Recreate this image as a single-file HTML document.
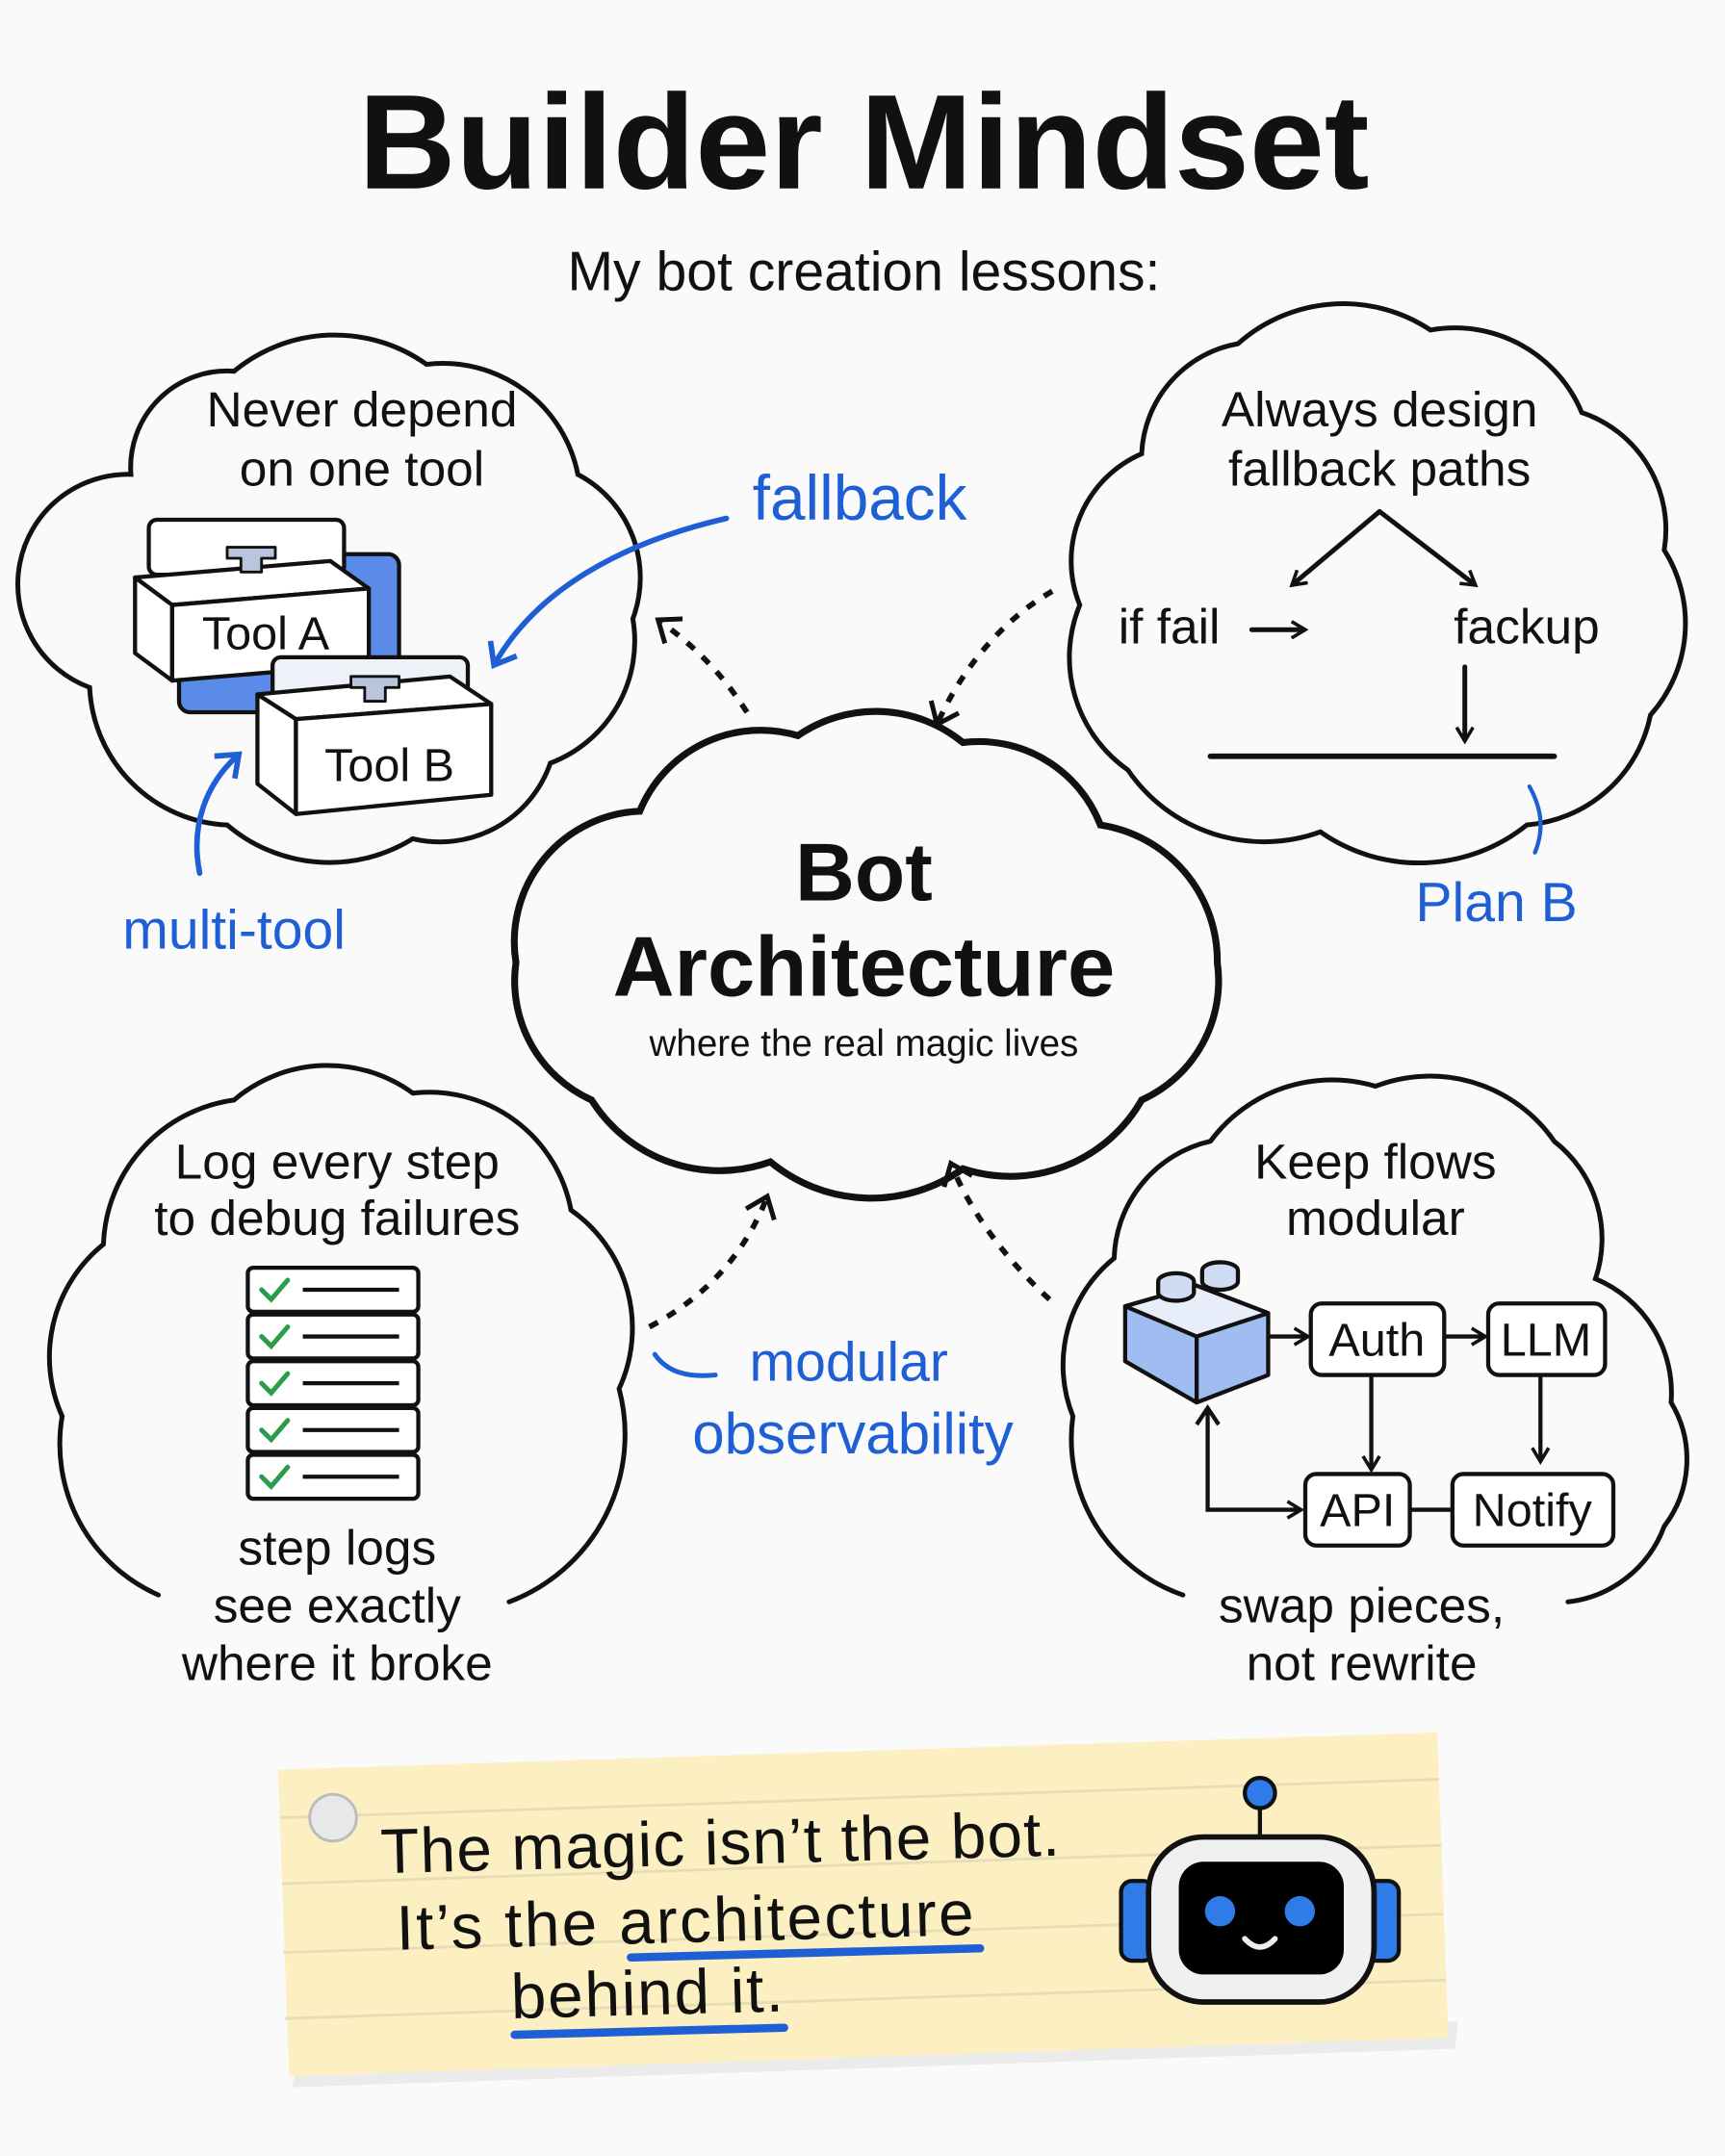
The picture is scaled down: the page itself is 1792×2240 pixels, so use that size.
<!DOCTYPE html>
<html><head><meta charset="utf-8"><style>
html,body{margin:0;padding:0;background:#fafafa;}
svg{display:block}
text{font-family:"Liberation Sans",sans-serif;fill:#111}
.b{fill:#1f5fd6}
</style></head><body>
<svg width="1792" height="2240" viewBox="0 0 1254 1568" xmlns="http://www.w3.org/2000/svg">
<defs>
<marker id="ab" markerWidth="26" markerHeight="26" refX="14" refY="13" orient="auto" markerUnits="userSpaceOnUse"><path d="M2,2 L16,13 L2,24" fill="none" stroke="#1f5fd6" stroke-width="4"/></marker>
<marker id="ad" markerWidth="26" markerHeight="26" refX="14" refY="13" orient="auto" markerUnits="userSpaceOnUse"><path d="M2,2 L16,13 L2,24" fill="none" stroke="#111" stroke-width="3.5"/></marker>
<marker id="as" markerWidth="14" markerHeight="14" refX="10" refY="7" orient="auto" markerUnits="userSpaceOnUse"><path d="M1,1 L11,7 L1,13" fill="none" stroke="#111" stroke-width="2.5"/></marker>
</defs>
<rect width="1254" height="1568" fill="#fafafa"/>

<text x="628" y="137" font-size="98" font-weight="bold" text-anchor="middle">Builder Mindset</text>
<text x="628" y="211" font-size="40" text-anchor="middle">My bot creation lessons:</text>

<g fill="none" stroke="#111" stroke-width="3.5" stroke-linecap="round">
<path d="M95,345 A70 70 0 0 1 170,270 A115 115 0 0 1 310,265 A100 100 0 0 1 420,345 A85 85 0 0 1 460,450 A95 95 0 0 1 400,555 A85 85 0 0 1 300,610 A115 115 0 0 1 165,600 A105 105 0 0 1 65,500 A80 80 0 0 1 95,345 Z"/>
<path d="M830,330 A85 85 0 0 1 900,250 A115 115 0 0 1 1040,240 A100 100 0 0 1 1150,300 A90 90 0 0 1 1210,400 A100 100 0 0 1 1200,520 A100 100 0 0 1 1110,600 A125 125 0 0 1 960,605 A120 120 0 0 1 820,560 A100 100 0 0 1 785,440 A85 85 0 0 1 830,330 Z"/>
<path d="M115,1160 A120 120 0 0 1 45,1030 A105 105 0 0 1 75,905 A110 110 0 0 1 170,800 A105 105 0 0 1 300,795 A105 105 0 0 1 415,880 A105 105 0 0 1 450,1010 A130 130 0 0 1 370,1165"/>
<path d="M860,1160 A120 120 0 0 1 780,1030 A100 100 0 0 1 810,915 A90 90 0 0 1 880,830 A110 110 0 0 1 1000,790 A110 110 0 0 1 1130,830 A90 90 0 0 1 1160,930 A90 90 0 0 1 1215,1020 A80 80 0 0 1 1210,1110 A85 85 0 0 1 1140,1165"/>
<path stroke-width="5" d="M465,590 A95 95 0 0 1 580,535 A100 100 0 0 1 700,540 A95 95 0 0 1 800,600 A100 100 0 0 1 885,700 A95 95 0 0 1 830,800 A110 110 0 0 1 700,850 A115 115 0 0 1 560,845 A110 110 0 0 1 430,800 A95 95 0 0 1 375,700 A95 95 0 0 1 465,590 Z"/>
</g>

<text x="263" y="310" font-size="36" text-anchor="middle">Never depend</text>
<text x="263" y="353" font-size="36" text-anchor="middle">on one tool</text>
<g stroke="#111" stroke-width="3" stroke-linejoin="round">
<rect x="130" y="403" width="160" height="115" rx="8" fill="#5b8be8"/>
<rect x="108" y="378" width="142" height="40" rx="6" fill="#fff"/>
<path d="M98,420 L240,408 L268,428 L125,440 Z" fill="#fff"/>
<path d="M98,420 L125,440 L125,495 L98,475 Z" fill="#fff"/>
<path d="M125,440 L268,428 L268,483 L125,495 Z" fill="#fff"/>
<path d="M165,398 h35 v8 h-10 v10 h-15 v-10 h-10 Z" fill="#b8c6dd" stroke-width="2"/>
<rect x="198" y="478" width="142" height="40" rx="6" fill="#eef1f8"/>
<path d="M187,505 L327,492 L357,512 L215,523 Z" fill="#fff"/>
<path d="M187,505 L215,523 L215,592 L187,570 Z" fill="#fff"/>
<path d="M215,523 L357,512 L357,578 L215,592 Z" fill="#fff"/>
<path d="M255,492 h35 v8 h-10 v10 h-15 v-10 h-10 Z" fill="#b8c6dd" stroke-width="2"/>
</g>
<text x="193" y="472" font-size="34" text-anchor="middle">Tool A</text>
<text x="283" y="568" font-size="34" text-anchor="middle">Tool B</text>

<path d="M528,377 C450,395 390,430 360,482" fill="none" stroke="#1f5fd6" stroke-width="4" stroke-linecap="round" marker-end="url(#ab)"/>
<path d="M145,635 C138,600 150,570 172,550" fill="none" stroke="#1f5fd6" stroke-width="4" stroke-linecap="round" marker-end="url(#ab)"/>
<text x="625" y="378" font-size="46" class="b" text-anchor="middle">fallback</text>
<text x="170" y="690" font-size="40" class="b" text-anchor="middle">multi-tool</text>

<text x="1003" y="310" font-size="36" text-anchor="middle">Always design</text>
<text x="1003" y="353" font-size="36" text-anchor="middle">fallback paths</text>
<g fill="none" stroke="#111" stroke-width="3.5" stroke-linecap="round">
<path d="M1003,372 L940,425" marker-end="url(#as)"/>
<path d="M1003,372 L1072,425" marker-end="url(#as)"/>
<path d="M1065,485 L1065,538" marker-end="url(#as)"/>
<path d="M910,458 L948,458" marker-end="url(#as)"/>
<path d="M880,550 L1130,550" stroke-width="4"/>
<path d="M1112,572 C1122,590 1122,605 1116,620" stroke="#1f5fd6" stroke-width="3"/>
</g>
<text x="813" y="468" font-size="36">if fail</text>
<text x="1110" y="468" font-size="36" text-anchor="middle">fackup</text>
<text x="1088" y="670" font-size="40" class="b" text-anchor="middle">Plan B</text>

<text x="628" y="655" font-size="60" font-weight="bold" text-anchor="middle">Bot</text>
<text x="628" y="724" font-size="62" font-weight="bold" text-anchor="middle">Architecture</text>
<text x="628" y="768" font-size="27" text-anchor="middle">where the real magic lives</text>

<g fill="none" stroke="#111" stroke-width="4" stroke-dasharray="7 8">
<path d="M543,518 C525,490 505,470 480,452" marker-end="url(#ad)"/>
<path d="M765,430 C730,450 700,485 682,525" marker-end="url(#ad)"/>
<path d="M472,965 C510,945 540,915 557,872" marker-end="url(#ad)"/>
<path d="M763,945 C730,915 705,880 692,848" marker-end="url(#ad)"/>
</g>
<path d="M476,985 C485,998 500,1002 520,1000" fill="none" stroke="#1f5fd6" stroke-width="3.5" stroke-linecap="round"/>
<text x="617" y="1004" font-size="40" class="b" text-anchor="middle">modular</text>
<text x="620" y="1057" font-size="42" class="b" text-anchor="middle">observability</text>

<text x="245" y="857" font-size="36" text-anchor="middle">Log every step</text>
<text x="245" y="898" font-size="36" text-anchor="middle">to debug failures</text>
<g stroke="#111" stroke-width="3" fill="#fff">
<rect x="180" y="922" width="124" height="32" rx="4"/>
<rect x="180" y="956" width="124" height="32" rx="4"/>
<rect x="180" y="990" width="124" height="32" rx="4"/>
<rect x="180" y="1024" width="124" height="32" rx="4"/>
<rect x="180" y="1058" width="124" height="32" rx="4"/>
</g>
<path d="M220,938 h70 M220,972 h70 M220,1006 h70 M220,1040 h70 M220,1074 h70" fill="none" stroke="#111" stroke-width="3"/>
<path d="M190,938 l7,7 l12,-14 M190,972 l7,7 l12,-14 M190,1006 l7,7 l12,-14 M190,1040 l7,7 l12,-14 M190,1074 l7,7 l12,-14" fill="none" stroke="#2a9d4a" stroke-width="3.5" stroke-linecap="round"/>
<text x="245" y="1138" font-size="36" text-anchor="middle">step logs</text>
<text x="245" y="1180" font-size="36" text-anchor="middle">see exactly</text>
<text x="245" y="1222" font-size="36" text-anchor="middle">where it broke</text>

<text x="1000" y="857" font-size="36" text-anchor="middle">Keep flows</text>
<text x="1000" y="898" font-size="36" text-anchor="middle">modular</text>
<g stroke="#111" stroke-width="3" stroke-linejoin="round">
<path d="M818,950 L870,935 L922,955 L922,1000 L870,1020 L818,990 Z" fill="#9fbdf0"/>
<path d="M818,950 L870,935 L922,955 L870,972 Z" fill="#e8eef9"/>
<path d="M870,972 L870,1020" fill="none"/>
<path d="M842,940 v-8 a13 6 0 0 1 26 0 v8 a13 6 0 0 1 -26 0 Z" fill="#cfdcf3"/>
<path d="M874,932 v-8 a13 6 0 0 1 26 0 v8 a13 6 0 0 1 -26 0 Z" fill="#cfdcf3"/>
<rect x="953" y="948" width="97" height="52" rx="8" fill="#fff"/>
<rect x="1082" y="948" width="85" height="52" rx="8" fill="#fff"/>
<rect x="949" y="1072" width="76" height="52" rx="8" fill="#fff"/>
<rect x="1056" y="1072" width="117" height="52" rx="8" fill="#fff"/>
</g>
<g fill="none" stroke="#111" stroke-width="3">
<path d="M923,972 L950,972" marker-end="url(#as)"/>
<path d="M1051,972 L1079,972" marker-end="url(#as)"/>
<path d="M997,1001 L997,1068" marker-end="url(#as)"/>
<path d="M1120,1001 L1120,1062" marker-end="url(#as)"/>
<path d="M878,1025 L878,1098 L945,1098" marker-end="url(#as)"/>
<path d="M870,1036 L878,1024 L886,1036"/>
<path d="M1026,1098 L1056,1098"/>
</g>
<text x="1001" y="986" font-size="34" text-anchor="middle">Auth</text>
<text x="1124" y="986" font-size="34" text-anchor="middle">LLM</text>
<text x="987" y="1110" font-size="34" text-anchor="middle">API</text>
<text x="1114" y="1110" font-size="34" text-anchor="middle">Notify</text>
<text x="990" y="1180" font-size="36" text-anchor="middle">swap pieces,</text>
<text x="990" y="1222" font-size="36" text-anchor="middle">not rewrite</text>

<path d="M212,1518 L1058,1490 L1060,1470 L215,1505 Z" fill="#000" opacity="0.06"/>
<path d="M202,1287 L1045,1260 L1053,1482 L210,1510 Z" fill="#fcf0c2"/>
<g stroke="#e6dcb6" stroke-width="2">
<path d="M205,1370 L1048,1342 M206,1420 L1049,1392 M207,1468 L1051,1440 M204,1322 L1046,1294"/>
</g>
<circle cx="242" cy="1322" r="17" fill="#e8e8e8" stroke="#bbb" stroke-width="2"/>
<g transform="rotate(-1.5 520 1400)">
<text x="278" y="1356" font-size="46" textLength="494">The magic isn’t the bot.</text>
<text x="288" y="1412" font-size="46" textLength="420">It’s the architecture</text>
<text x="370" y="1464" font-size="46" textLength="198">behind it.</text>
<path d="M458,1422 L712,1422" stroke="#1f5fd6" stroke-width="6" stroke-linecap="round"/>
<path d="M372,1476 L568,1476" stroke="#1f5fd6" stroke-width="6" stroke-linecap="round"/>
</g>
<path d="M916,1314 L916,1338" stroke="#111" stroke-width="3"/>
<circle cx="916" cy="1304" r="11" fill="#2f7be8" stroke="#111" stroke-width="3"/>
<rect x="815" y="1368" width="24" height="58" rx="8" fill="#2f7be8" stroke="#111" stroke-width="3"/>
<rect x="993" y="1368" width="24" height="58" rx="8" fill="#2f7be8" stroke="#111" stroke-width="3"/>
<rect x="835" y="1336" width="164" height="120" rx="40" fill="#f0f0f0" stroke="#111" stroke-width="4"/>
<rect x="857" y="1354" width="120" height="82" rx="18" fill="#000"/>
<circle cx="887" cy="1390" r="11" fill="#2f7be8"/>
<circle cx="945" cy="1390" r="11" fill="#2f7be8"/>
<path d="M905,1410 Q916,1422 927,1410" fill="none" stroke="#eee" stroke-width="4" stroke-linecap="round"/>
</svg>
</body></html>
